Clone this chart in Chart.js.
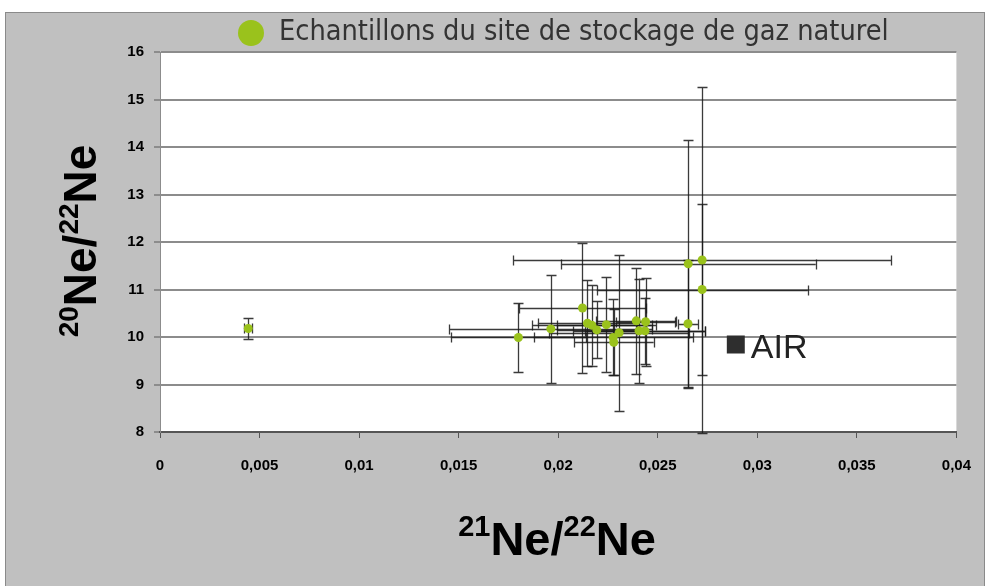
<!DOCTYPE html>
<html>
<head>
<meta charset="utf-8">
<script src="https://cdn.jsdelivr.net/npm/chart.js@4"></script>
<style>
  html, body { margin: 0; padding: 0; background: #fff; }
  #wrap { width: 990px; height: 586px; }
</style>
</head>
<body>
<div id="wrap"><canvas id="c" width="990" height="586"></canvas></div>
<script>
// samples: 21Ne/22Ne vs 20Ne/22Ne, with 1-sigma errors
const sampleX = [0.00443, 0.0180, 0.01963, 0.02122, 0.02147, 0.02169, 0.02194, 0.02242, 0.02276, 0.02279,
  0.02306, 0.02392, 0.02439, 0.02406, 0.02436, 0.02653, 0.02723, 0.02723, 0.02652];
const sampleY = [10.18, 9.99, 10.17, 10.61, 10.29, 10.25, 10.15, 10.26, 9.99, 9.89,
  10.09, 10.34, 10.32, 10.13, 10.13, 11.54, 11.62, 11.00, 10.28];
const sampleXErr = [0.0002, 0.0034, 0.0051, 0.0032, 0.0025, 0.0030, 0.0020, 0.0025, 0.0040, 0.0020,
  0.0035, 0.0020, 0.0015, 0.0033, 0.0030, 0.0064, 0.0095, 0.0053, 0.0005];
const sampleYErr = [0.22, 0.72, 1.14, 1.37, 0.90, 0.85, 0.60, 1.00, 0.80, 0.70,
  1.64, 1.12, 0.93, 1.10, 0.70, 2.60, 3.65, 1.80, 1.35];

const airX = [0.02892];
const airY = [9.84];

const xTickLabels = ['0', '0,005', '0,01', '0,015', '0,02', '0,025', '0,03', '0,035', '0,04'];
const yTickLabels = ['8', '9', '10', '11', '12', '13', '14', '15', '16'];

const GREEN = '#9ac21c';
const FONT = "'Liberation Sans', Arial, sans-serif";

// grey frame + white plot area
const framePlugin = {
  id: 'frame',
  beforeDraw(chart) {
    const ctx = chart.ctx;
    const a = chart.chartArea;
    ctx.save();
    ctx.fillStyle = '#c0c0c0';
    ctx.fillRect(5, 12, 980, 580);
    ctx.strokeStyle = '#8a8a8a';
    ctx.lineWidth = 1;
    ctx.strokeRect(5.5, 12.5, 979, 580);
    ctx.fillStyle = '#fff';
    ctx.fillRect(a.left, a.top, a.right - a.left, a.bottom - a.top);
    ctx.restore();
  }
};

// error bars, drawn under the points
const errorBarPlugin = {
  id: 'errorBars',
  beforeDatasetsDraw(chart) {
    const ctx = chart.ctx;
    const xs = chart.scales.x, ys = chart.scales.y;
    const cap = 5;
    ctx.save();
    ctx.strokeStyle = 'rgba(25,25,25,0.85)';
    ctx.lineWidth = 1.3;
    for (let i = 0; i < sampleX.length; i++) {
      const px = Math.round(xs.getPixelForValue(sampleX[i])) + 0.5;
      const py = Math.round(ys.getPixelForValue(sampleY[i])) + 0.5;
      const x0 = xs.getPixelForValue(sampleX[i] - sampleXErr[i]);
      const x1 = xs.getPixelForValue(sampleX[i] + sampleXErr[i]);
      const y0 = ys.getPixelForValue(sampleY[i] + sampleYErr[i]);
      const y1 = ys.getPixelForValue(sampleY[i] - sampleYErr[i]);
      ctx.beginPath();
      ctx.moveTo(px, y0); ctx.lineTo(px, y1);
      ctx.moveTo(px - cap, Math.round(y0) + 0.5); ctx.lineTo(px + cap, Math.round(y0) + 0.5);
      ctx.moveTo(px - cap, Math.round(y1) + 0.5); ctx.lineTo(px + cap, Math.round(y1) + 0.5);
      ctx.moveTo(x0, py); ctx.lineTo(x1, py);
      ctx.moveTo(Math.round(x0) + 0.5, py - cap); ctx.lineTo(Math.round(x0) + 0.5, py + cap);
      ctx.moveTo(Math.round(x1) + 0.5, py - cap); ctx.lineTo(Math.round(x1) + 0.5, py + cap);
      ctx.stroke();
    }
    ctx.restore();
  }
};

// draws text runs like [['21', true], ['Ne/', false], ...] with superscripts
function drawSupText(ctx, runs, cx, baseline, size, supSize, rise) {
  const fontFor = sup => `bold ${sup ? supSize : size}px ${FONT}`;
  let total = 0;
  runs.forEach(([t, sup]) => { ctx.font = fontFor(sup); total += ctx.measureText(t).width; });
  let x = cx - total / 2;
  ctx.textAlign = 'left';
  ctx.textBaseline = 'alphabetic';
  runs.forEach(([t, sup]) => {
    ctx.font = fontFor(sup);
    ctx.fillText(t, x, sup ? baseline - rise : baseline);
    x += ctx.measureText(t).width;
  });
}

const labelsPlugin = {
  id: 'labels',
  afterDraw(chart) {
    const ctx = chart.ctx;
    const xs = chart.scales.x, ys = chart.scales.y;
    ctx.save();
    ctx.fillStyle = '#000';

    // axis titles
    drawSupText(ctx, [['21', true], ['Ne/', false], ['22', true], ['Ne', false]], 557, 555, 47, 29, 19);
    ctx.save();
    ctx.translate(96, 241);
    ctx.rotate(-Math.PI / 2);
    drawSupText(ctx, [['20', true], ['Ne/', false], ['22', true], ['Ne', false]], 0, 0, 46, 28, 18);
    ctx.restore();

    // legend
    const ds = chart.data.datasets[0];
    ctx.fillStyle = ds.backgroundColor;
    ctx.beginPath();
    ctx.arc(251, 33, 13, 0, Math.PI * 2);
    ctx.fill();
    ctx.fillStyle = '#333';
    ctx.font = `30px 'Liberation Sans Narrow', 'DejaVu Sans Condensed', sans-serif`;
    const w = ctx.measureText(ds.label).width;
    const size = Math.min(34, 30 * 610 / w);
    ctx.font = `${size}px 'Liberation Sans Narrow', 'DejaVu Sans Condensed', sans-serif`;
    ctx.textAlign = 'left';
    ctx.textBaseline = 'middle';
    ctx.fillText(ds.label, 279, 33);

    // AIR label
    ctx.fillStyle = '#222';
    ctx.font = `34px ${FONT}`;
    ctx.textBaseline = 'alphabetic';
    ctx.fillText(chart.data.datasets[1].label,
      xs.getPixelForValue(airX[0]) + 15, ys.getPixelForValue(airY[0]) + 13);
    ctx.restore();
  }
};

new Chart(document.getElementById('c'), {
  type: 'scatter',
  data: {
    datasets: [
      {
        label: 'Echantillons du site de stockage de gaz naturel',
        data: sampleX.map((x, i) => ({ x, y: sampleY[i] })),
        backgroundColor: GREEN,
        borderWidth: 0,
        pointRadius: 4.5
      },
      {
        label: 'AIR',
        data: airX.map((x, i) => ({ x, y: airY[i] })),
        pointStyle: 'rect',
        backgroundColor: '#2e2e2e',
        borderWidth: 0,
        pointRadius: 12.7
      }
    ]
  },
  options: {
    responsive: false,
    devicePixelRatio: 1,
    animation: false,
    layout: { padding: { top: 52, right: 32, left: 0, bottom: 0 } },
    plugins: { legend: { display: false }, tooltip: { enabled: false } },
    scales: {
      x: {
        type: 'linear',
        min: 0,
        max: 0.04,
        ticks: {
          stepSize: 0.005,
          color: '#000',
          padding: 19,
          maxRotation: 0,
          font: { family: FONT, size: 15, weight: 'bold' },
          callback: (v, i) => xTickLabels[i]
        },
        grid: { drawOnChartArea: false, drawTicks: true, tickLength: 6, color: '#555', lineWidth: 1 },
        border: { display: true, color: '#555', width: 2 },
        afterFit: s => { s.height = 154; }
      },
      y: {
        type: 'linear',
        min: 8,
        max: 16,
        ticks: {
          stepSize: 1,
          color: '#000',
          padding: 10,
          font: { family: FONT, size: 15, weight: 'bold' },
          callback: (v, i) => yTickLabels[i]
        },
        grid: { color: '#8c8c8c', lineWidth: 2, tickLength: 6 },
        border: { display: true, color: '#8c8c8c', width: 1 },
        afterFit: s => { s.width = 160; }
      }
    }
  },
  plugins: [framePlugin, errorBarPlugin, labelsPlugin]
});
</script>
</body>
</html>
